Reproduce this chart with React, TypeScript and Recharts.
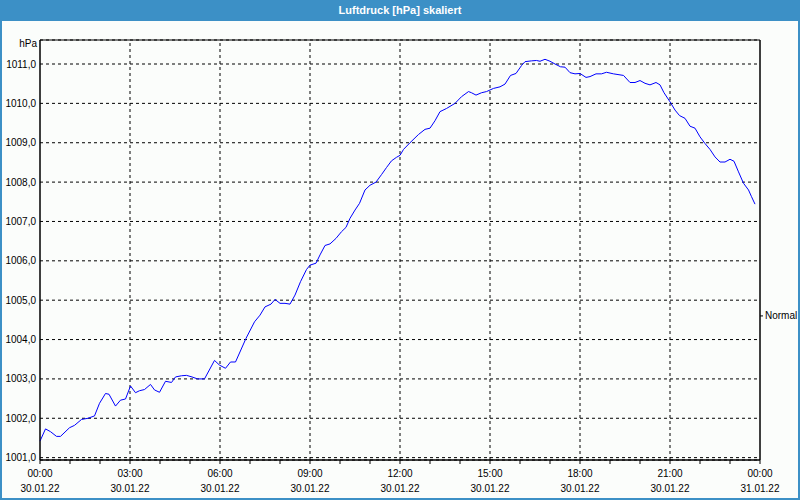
import { CartesianGrid, Line, LineChart, ReferenceArea, ReferenceLine, XAxis, YAxis } from 'recharts'

// minutes since 30.01.22 00:00
const MINUTES = [
  0, 11, 21, 33, 41, 59, 69, 83, 96, 109, 119, 131, 138, 151, 161, 171, 181, 191, 199, 209,
  221, 229, 239, 251, 263, 271, 283, 293, 304, 315, 329, 349, 359, 371, 381, 391, 412, 429,
  440, 450, 462, 470, 480, 490, 500, 510, 521, 533, 540, 552, 560, 570, 580, 592, 603, 612,
  620, 630, 639, 650, 660, 672, 683, 693, 703, 713, 720, 727, 740, 757, 770, 780, 790, 800,
  813, 830, 843, 857, 863, 872, 883, 893, 907, 920, 930, 941, 952, 963, 970, 983, 993, 1000,
  1010, 1020, 1030, 1041, 1050, 1060, 1070, 1080, 1092, 1100, 1112, 1123, 1133, 1147, 1167,
  1180, 1190, 1200, 1210, 1220, 1232, 1240, 1248, 1260, 1270, 1279, 1290, 1300, 1310, 1320,
  1330, 1340, 1350, 1360, 1370, 1380, 1388, 1397, 1407, 1417, 1423, 1430,
]

// Luftdruck in hPa
const HPA = [
  1001.42, 1001.73, 1001.66, 1001.54, 1001.54, 1001.76, 1001.82, 1001.97, 1002.0, 1002.06,
  1002.38, 1002.63, 1002.61, 1002.31, 1002.46, 1002.49, 1002.82, 1002.65, 1002.7, 1002.73,
  1002.86, 1002.72, 1002.66, 1002.94, 1002.91, 1003.05, 1003.08, 1003.09, 1003.05, 1003.0,
  1003.0, 1003.47, 1003.35, 1003.27, 1003.43, 1003.43, 1004.03, 1004.45, 1004.62, 1004.83,
  1004.9, 1005.02, 1004.92, 1004.92, 1004.9, 1005.13, 1005.47, 1005.78, 1005.89, 1005.94,
  1006.15, 1006.39, 1006.43, 1006.57, 1006.74, 1006.85, 1007.08, 1007.29, 1007.46, 1007.8,
  1007.92, 1008.0, 1008.19, 1008.37, 1008.54, 1008.63, 1008.68, 1008.83, 1009.0, 1009.21,
  1009.34, 1009.37, 1009.56, 1009.79, 1009.87, 1010.0, 1010.17, 1010.3, 1010.27, 1010.21,
  1010.27, 1010.3, 1010.38, 1010.42, 1010.49, 1010.71, 1010.76, 1010.96, 1011.06, 1011.08,
  1011.09, 1011.07, 1011.12, 1011.07, 1011.0, 1010.93, 1010.92, 1010.78, 1010.75, 1010.76,
  1010.66, 1010.68, 1010.75, 1010.75, 1010.79, 1010.75, 1010.71, 1010.53, 1010.53, 1010.58,
  1010.51, 1010.47, 1010.53, 1010.47, 1010.27, 1010.04, 1009.83, 1009.69, 1009.62, 1009.42,
  1009.37, 1009.15, 1008.98, 1008.83, 1008.64, 1008.51, 1008.51, 1008.58, 1008.53, 1008.26,
  1007.97, 1007.8, 1007.63, 1007.44,
]

const HOUR_TICKS = [
  0, 60, 120, 180, 240, 300, 360, 420, 480, 540, 600, 660, 720, 780, 840, 900, 960, 1020,
  1080, 1140, 1200, 1260, 1320, 1380, 1440,
]
const GRID_MINUTES = [180, 360, 540, 720, 900, 1080, 1260]
const HPA_TICKS = [1001, 1002, 1003, 1004, 1005, 1006, 1007, 1008, 1009, 1010, 1011]
const DAY_LABELS = ['30.01.22', '31.01.22']
const NORMAL_HPA = 1004.6
const Y_DOMAIN: [number, number] = [1000.94, 1011.61]

const rows = MINUTES.map((m, i) => ({ m, hpa: HPA[i] }))

const FONT = '"Liberation Sans", Arial, sans-serif'
const TITLE_BLUE = '#3c90c6'

function hhmm(m: number): string {
  const h = Math.floor(m / 60) % 24
  return `${String(h).padStart(2, '0')}:00`
}

function TimeTick(props: any) {
  const { x, y, payload } = props
  const m = payload.value
  if (m % 180 !== 0) return <g />
  return (
    <text x={x} y={y} textAnchor="middle" fill="#000" fontSize={10} fontFamily={FONT}>
      <tspan x={x} dy={11}>{hhmm(m)}</tspan>
      <tspan x={x} dy={15}>{m >= 1440 ? DAY_LABELS[1] : DAY_LABELS[0]}</tspan>
    </text>
  )
}

export default function App() {
  return (
    <div
      style={{
        position: 'absolute',
        left: 0,
        top: 0,
        width: 800,
        height: 500,
        background: '#fbfdfb',
        fontFamily: FONT,
        overflow: 'hidden',
      }}
    >
      <div
        style={{
          height: 21,
          background: TITLE_BLUE,
          color: '#fff',
          fontWeight: 'bold',
          fontSize: 11,
          lineHeight: '20px',
          textAlign: 'center',
        }}
      >
        Luftdruck [hPa] skaliert
      </div>
      <div
        style={{
          position: 'absolute',
          left: 0,
          top: 38,
          width: 37,
          textAlign: 'right',
          fontSize: 10,
          lineHeight: '12px',
          color: '#000',
        }}
      >
        hPa
      </div>
      <div style={{ position: 'absolute', left: 0, top: 20 }}>
        <LineChart
          width={800}
          height={480}
          data={rows}
          margin={{ top: 20, right: 0, bottom: 0, left: 0 }}
        >
          <CartesianGrid vertical={false} stroke="#000" strokeDasharray="3 3" />
          {GRID_MINUTES.map((m) => (
            <ReferenceLine key={m} x={m} stroke="#000" strokeDasharray="3 3" />
          ))}
          {/* solid frame round the plot area */}
          <ReferenceArea
            x1={0}
            x2={1440}
            y1={Y_DOMAIN[0]}
            y2={Y_DOMAIN[1]}
            fill="none"
            fillOpacity={0}
            stroke="#000"
            strokeWidth={1}
          />
          <XAxis
            dataKey="m"
            type="number"
            domain={[0, 1440]}
            ticks={HOUR_TICKS}
            interval={0}
            height={40}
            tickSize={4}
            tickMargin={2}
            axisLine={{ stroke: '#000' }}
            tickLine={{ stroke: '#000' }}
            tick={<TimeTick />}
          />
          <YAxis
            type="number"
            domain={Y_DOMAIN}
            allowDataOverflow
            ticks={HPA_TICKS}
            interval={0}
            width={40}
            tickSize={0}
            tickMargin={4}
            axisLine={{ stroke: '#000' }}
            tick={{ fontSize: 10, fill: '#000', fontFamily: FONT }}
            tickFormatter={(v: number) => v.toFixed(1).replace('.', ',')}
          />
          <YAxis
            yAxisId="right"
            orientation="right"
            type="number"
            domain={Y_DOMAIN}
            allowDataOverflow
            ticks={[NORMAL_HPA]}
            width={40}
            tickSize={3}
            tickMargin={2}
            axisLine={{ stroke: '#000' }}
            tickLine={{ stroke: '#000' }}
            tick={{ fontSize: 10, fill: '#000', fontFamily: FONT }}
            tickFormatter={() => 'Normal'}
          />
          <Line
            type="linear"
            dataKey="hpa"
            stroke="#0000ff"
            strokeWidth={1}
            dot={false}
            activeDot={false}
            isAnimationActive={false}
          />
        </LineChart>
      </div>
      <div
        style={{
          position: 'absolute',
          left: 0,
          top: 0,
          width: 800,
          height: 500,
          boxSizing: 'border-box',
          borderLeft: `2px solid ${TITLE_BLUE}`,
          borderRight: `2px solid ${TITLE_BLUE}`,
          borderBottom: `2px solid ${TITLE_BLUE}`,
          pointerEvents: 'none',
        }}
      />
    </div>
  )
}
